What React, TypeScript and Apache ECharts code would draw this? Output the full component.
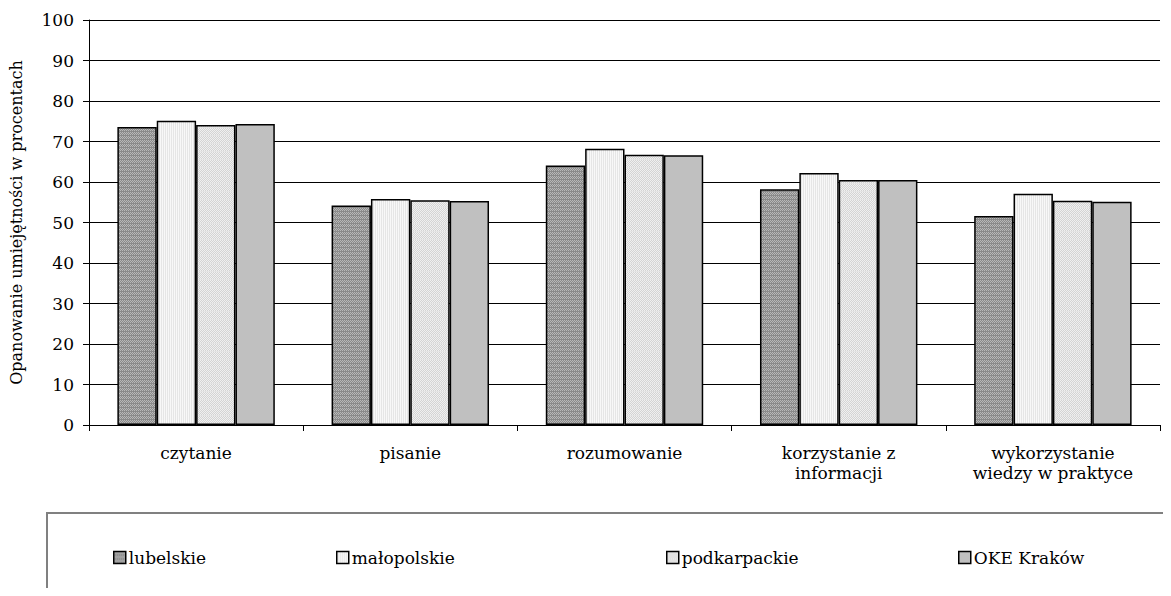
import React, { useEffect, useRef } from "react";
import * as echarts from "echarts";

const categories = [
  "czytanie",
  "pisanie",
  "rozumowanie",
  "korzystanie z\ninformacji",
  "wykorzystanie\nwiedzy w praktyce",
];
const seriesNames = ["lubelskie", "małopolskie", "podkarpackie", "OKE Kraków"];
const lubelskie = [73.6, 54.2, 64.1, 58.2, 51.6];
const malopolskie = [75.1, 55.8, 68.2, 62.2, 57.1];
const podkarpackie = [74.1, 55.5, 66.7, 60.5, 55.4];
const okeKrakow = [74.3, 55.3, 66.6, 60.5, 55.1];
const yTicks = { min: 0, max: 100, interval: 10 };

function makePattern(kind: number): any {
  const c = document.createElement("canvas");
  const w = 4;
  const h = kind === 2 ? 8 : 4;
  c.width = w;
  c.height = h;
  const g = c.getContext("2d")!;
  if (kind === 0) {
    g.fillStyle = "#8a8a8a";
    g.fillRect(0, 0, w, h);
    g.fillStyle = "#b8b8b8";
    for (let y = 0; y < h; y++)
      for (let x = 0; x < w; x++) if ((x + y) % 2 === 0 && y % 4 !== 3) g.fillRect(x, y, 1, 1);
  } else if (kind === 1) {
    g.fillStyle = "#e6e6e6";
    g.fillRect(0, 0, w, h);
    g.fillStyle = "#f8f8f8";
    g.fillRect(0, 0, 1, h);
    g.fillRect(2, 0, 1, h);
  } else {
    g.fillStyle = "#d4d4d4";
    g.fillRect(0, 0, w, h);
    g.fillStyle = "#f0f0f0";
    for (let y = 0; y < h - 1; y++)
      for (let x = 0; x < w; x++) if ((x + y) % 2 === 0) g.fillRect(x, y, 1, 1);
    g.fillStyle = "#e4e4e4";
    g.fillRect(0, h - 1, w, 1);
  }
  return { image: c, repeat: "repeat", imageWidth: w, imageHeight: h };
}

export default function App() {
  const ref = useRef<HTMLDivElement>(null);
  useEffect(() => {
    const chart = echarts.init(ref.current!, null, { renderer: "svg" });
    const fills: any[] = [makePattern(0), makePattern(1), makePattern(2), "#c0c0c0"];
    const data = [lubelskie, malopolskie, podkarpackie, okeKrakow];
    const legendLefts = [113, 336, 666, 958];
    const font = "DejaVu Serif";
    chart.setOption({
      animation: false,
      textStyle: { fontFamily: font, color: "#000" },
      grid: { left: 88, right: 11, top: 20, bottom: 171 },
      graphic: [
        {
          type: "rect",
          shape: { x: 47, y: 513, width: 1140, height: 100 },
          style: { fill: "#fff", stroke: "#808080", lineWidth: 2 },
          z: -1,
        },
      ],
      legend: seriesNames.map((n, i) => ({
        data: [n],
        left: legendLefts[i],
        top: 549,
        itemWidth: 12,
        itemHeight: 12,
        itemGap: 0,
        padding: 0,
        icon: "rect",
        itemStyle: { borderColor: "#000", borderWidth: 1.5 },
        textStyle: { fontFamily: font, fontSize: 17, color: "#000", padding: [0, 0, 0, -2] },
        selectedMode: false,
      })),
      xAxis: {
        type: "category",
        data: categories,
        axisLine: { lineStyle: { color: "#000", width: 1 } },
        axisTick: { show: true, length: 6, lineStyle: { color: "#000" } },
        axisLabel: {
          fontFamily: font,
          fontSize: 17,
          color: "#000",
          lineHeight: 20,
          margin: 18,
          interval: 0,
        },
      },
      yAxis: {
        type: "value",
        min: yTicks.min,
        max: yTicks.max,
        interval: yTicks.interval,
        name: "Opanowanie umiejętności w procentach",
        nameLocation: "middle",
        nameGap: 65,
        nameTextStyle: { fontFamily: font, fontSize: 16, color: "#000" },
        axisLine: { show: true, lineStyle: { color: "#000", width: 1 } },
        axisTick: { show: true, length: 6, lineStyle: { color: "#000" } },
        axisLabel: { fontFamily: font, fontSize: 17, color: "#000", margin: 15 },
        splitLine: { show: true, lineStyle: { color: "#000", width: 1 } },
      },
      series: seriesNames.map((n, i) => ({
        name: n,
        type: "bar",
        data: data[i],
        barGap: "0%",
        barCategoryGap: "26.5%",
        itemStyle: { color: fills[i], borderColor: "#000", borderWidth: 1.5 },
      })),
    });
    return () => chart.dispose();
  }, []);
  return <div ref={ref} style={{ width: 1171, height: 596, margin: -8 }} />;
}
